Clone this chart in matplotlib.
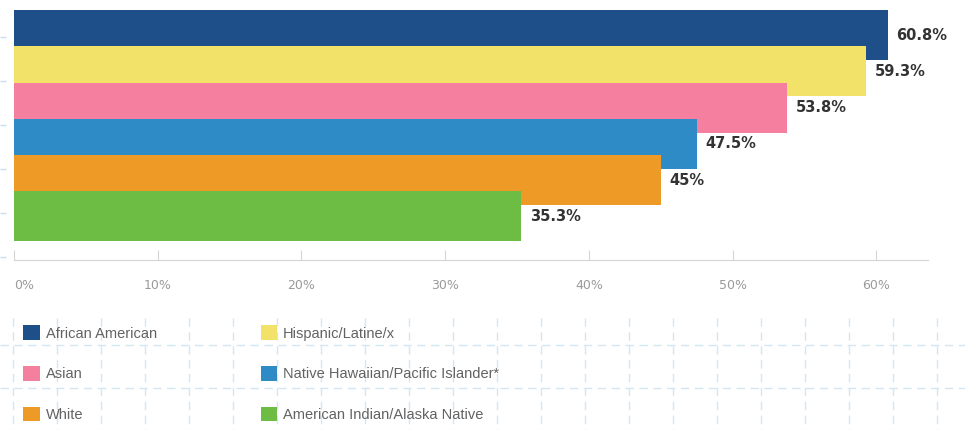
import matplotlib.pyplot as plt
from matplotlib.patches import Patch

# data
groups = ["African American", "Hispanic/Latine/x", "Asian",
          "Native Hawaiian/Pacific Islander*", "White",
          "American Indian/Alaska Native"]
values = [60.8, 59.3, 53.8, 47.5, 45, 35.3]
value_labels = ["60.8%", "59.3%", "53.8%", "47.5%", "45%", "35.3%"]
colors = ["#1f4f88", "#f3e26a", "#f47f9e", "#2f8bc6", "#ee9a27", "#6dbd44"]
ticks = [0, 10, 20, 30, 40, 50, 60]
tick_labels = ["0%", "10%", "20%", "30%", "40%", "50%", "60%"]

W, H = 965, 430
fig = plt.figure(figsize=(W / 100, H / 100), dpi=100)
fig.patch.set_facecolor("white")

# faint dashed grid in the background (pixel coords)
bg = fig.add_axes([0, 0, 1, 1], zorder=-1)
bg.set_xlim(0, W)
bg.set_ylim(H, 0)
bg.axis("off")
grid_c = "#d3e6f3"
for gx in range(13, W, 44):
    bg.vlines(gx, 318, H, colors=grid_c, lw=1, linestyles=(0, (6, 4)))
for gy in (345, 388):
    bg.hlines(gy, 0, W, colors=grid_c, lw=1, linestyles=(0, (6, 4)))
for gy in range(37, 300, 44):
    bg.hlines(gy, 0, 6, colors="#c9def0", lw=1)

# main bar chart
ax = fig.add_axes([14 / W, 1 - 260 / H, (928 - 14) / W, 250 / H])
ypos = list(range(len(values)))
for i, (v, c) in enumerate(zip(values, colors)):
    ax.barh(ypos[i], v, height=1.38, color=c, zorder=2 + i)
    ax.text(v + 0.6, ypos[i], value_labels[i], va="center", ha="left",
            fontsize=10.5, fontweight="bold", color="#333333", zorder=10)

ax.set_xlim(0, 63.6)
ax.set_ylim(6.2, -0.69)
ax.set_xticks(ticks)
ax.set_xticklabels(tick_labels)
ax.get_xticklabels()[0].set_horizontalalignment("left")
ax.set_yticks([])
for s in ("top", "right", "left"):
    ax.spines[s].set_visible(False)
ax.spines["bottom"].set_color("#d5d5d5")
ax.tick_params(axis="x", direction="in", length=7, color="#d5d5d5",
               labelsize=9, labelcolor="#9a9a9a", pad=14)
ax.patch.set_alpha(0)

# legend, row-major like the original
order = [0, 2, 4, 1, 3, 5]
handles = [Patch(facecolor=colors[i], edgecolor="none") for i in order]
labels = [groups[i] for i in order]
fig.legend(handles, labels, ncol=2, loc="upper left",
           bbox_to_anchor=(19 / W, 1 - 321 / H), frameon=False,
           prop={"family": "Liberation Sans", "size": 10.5},
           labelcolor="#626262", handlelength=1.15, handleheight=1.15,
           handletextpad=0.4, labelspacing=1.75, columnspacing=7.1,
           borderaxespad=0, borderpad=0.3)

fig.savefig("out.png", dpi=100)
